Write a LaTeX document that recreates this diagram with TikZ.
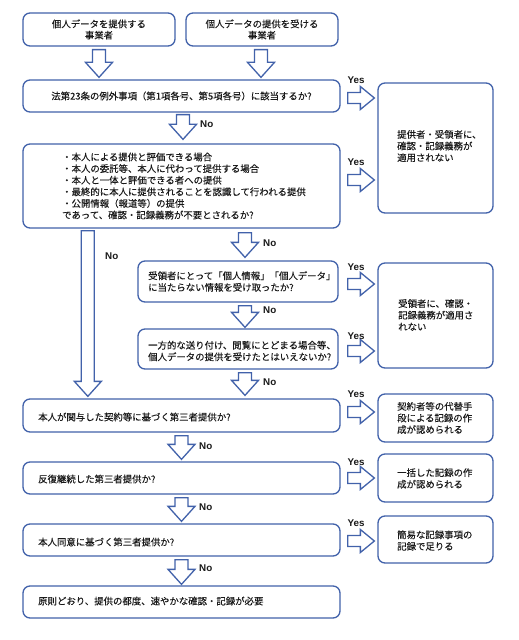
\documentclass[tikz,border=0pt]{standalone}
\usepackage{fontspec}
\setmainfont{Noto Sans CJK JP}[UprightFeatures={FakeBold=0.15}]
\newfontfamily\latf{Liberation Sans}
\usetikzlibrary{calc}
\definecolor{bblue}{HTML}{4262AA}
\definecolor{txt}{HTML}{1A1A1A}
\tikzset{
  box/.style={draw=bblue, line width=1.3bp, rounded corners=7bp, fill=white, inner sep=0pt},
  btext/.style={inner sep=0pt, align=left, text=txt, font=\fontsize{9.4bp}{11.6bp}\selectfont},
  ctext/.style={align=center, text=txt, font=\fontsize{9.4bp}{11.2bp}\selectfont},
  blk/.style={draw=bblue, line width=1.3bp, fill=white, line join=miter},
  yn/.style={inner sep=0pt, text=txt, font=\latf\bfseries\fontsize{9.8bp}{11bp}\selectfont},
}
\newcommand\downarr[2]{\draw[blk] let \p1=#1, \p2=#2 in
  (\x1-6.5bp,\y1) -- (\x1+6.5bp,\y1) -- (\x1+6.5bp,\y2+15bp) -- (\x1+13.5bp,\y2+15bp)
  -- (\x1,\y2) -- (\x1-13.5bp,\y2+15bp) -- (\x1-6.5bp,\y2+15bp) -- cycle;}
\newcommand\rightarr[2]{\draw[blk] let \p1=#1, \p2=#2 in
  (\x1,\y1+5.5bp) -- (\x2-14bp,\y1+5.5bp) -- (\x2-14bp,\y1+11.5bp) -- (\x2,\y1)
  -- (\x2-14bp,\y1-11.5bp) -- (\x2-14bp,\y1-5.5bp) -- (\x1,\y1-5.5bp) -- cycle;}
\begin{document}
\begin{tikzpicture}[x=1bp,y=-1bp]
\useasboundingbox[fill=white] (0,0) rectangle (519,640);

% top boxes
\node[box, ctext, minimum width=152bp, minimum height=33bp] (t1) at (99,29.5) {個人データを提供する\\事業者};
\node[box, ctext, minimum width=152bp, minimum height=33bp] (t2) at (262,29.5) {個人データの提供を受ける\\事業者};

% question boxes
\node[box, ctext, minimum width=317bp, minimum height=32bp] (q1) at (181.5,96) {法第23条の例外事項（第1項各号、第5項各号）に該当するか?};

\node[box, minimum width=317bp, minimum height=84bp] (q2) at (181.5,186) {};
\node[btext, anchor=west] (q2t) at (62,186) {・本人による提供と評価できる場合\\・本人の委託等、本人に代わって提供する場合\\・本人と一体と評価できる者への提供\\・最終的に本人に提供されることを認識して行われる提供\\・公開情報（報道等）の提供\\であって、確認・記録義務が不要とされるか?};

\node[box, minimum width=200bp, minimum height=41bp] (q3) at (238,281.5) {};
\node[btext, anchor=west] (q3t) at (148,281.5) {受領者にとって「個人情報」「個人データ」\\に当たらない情報を受け取ったか?};

\node[box, minimum width=200bp, minimum height=40bp] (q4) at (238,349) {};
\node[btext, anchor=west] (q4t) at (148,351) {一方的な送り付け、閲覧にとどまる場合等、\\個人データの提供を受けたとはいえないか?};

\node[box, minimum width=317bp, minimum height=33bp] (q5) at (181.5,415.5) {};
\node[btext, anchor=west] (q5t) at (38,417) {本人が関与した契約等に基づく第三者提供か?};

\node[box, minimum width=317bp, minimum height=32bp] (q6) at (181.5,478) {};
\node[btext, anchor=west] (q6t) at (38,479) {反復継続した第三者提供か?};

\node[box, minimum width=317bp, minimum height=32bp] (q7) at (181.5,540) {};
\node[btext, anchor=west] (q7t) at (38,542) {本人同意に基づく第三者提供か?};

\node[box, minimum width=317bp, minimum height=32bp] (q8) at (181.5,602) {};
\node[btext, anchor=west] (q8t) at (38,601) {原則どおり、提供の都度、速やかな確認・記録が必要};

% result boxes
\node[box, minimum width=115bp, minimum height=130bp] (r1) at (435.5,148) {};
\node[btext, anchor=west] (r1t) at (397,146) {提供者・受領者に、\\確認・記録義務が\\適用されない};

\node[box, minimum width=115bp, minimum height=105bp] (r2) at (435.5,315.5) {};
\node[btext, anchor=west] (r2t) at (398,315) {受領者に、確認・\\記録義務が適用さ\\れない};

\node[box, minimum width=115bp, minimum height=48bp] (r3) at (435.5,418) {};
\node[btext, anchor=west] (r3t) at (397,418) {契約者等の代替手\\段による記録の作\\成が認められる};

\node[box, minimum width=115bp, minimum height=48bp] (r4) at (435.5,478) {};
\node[btext, anchor=west] (r4t) at (397,478.5) {一括した記録の作\\成が認められる};

\node[box, minimum width=115bp, minimum height=47bp] (r5) at (435.5,539.5) {};
\node[btext, anchor=west] (r5t) at (397,540.5) {簡易な記録事項の\\記録で足りる};

% down arrows
\downarr{($(t1.south)+(0,3)$)}{($(t1.south|-q1.north)+(0,-2)$)}
\downarr{($(t2.south)+(-1,3)$)}{($(t2.south|-q1.north)+(-1,-2)$)}
\downarr{($(q1.south)+(1.5,2)$)}{($(q1.south|-q2.north)+(1.5,-4)$)}
\downarr{($(q2.south west)+(65.5,2)$)}{($(q2.south west|-q5.north)+(65.5,-2)$)}
\downarr{($(q3.north|-q2.south)+(7,4)$)}{($(q3.north)+(7,-3)$)}
\downarr{($(q3.south)+(7,3)$)}{($(q4.north)+(7,-1)$)}
\downarr{($(q4.south)+(7,3)$)}{($(q4.south|-q5.north)+(7,-3)$)}
\downarr{($(q5.south)+(0,3)$)}{($(q6.north)+(0,-2)$)}
\downarr{($(q6.south)+(0,3)$)}{($(q7.north)+(0,-2)$)}
\downarr{($(q7.south)+(0,3)$)}{($(q8.north)+(0,-1)$)}

% No labels
\node[yn, anchor=west] (n1) at (200,124) {No};
\node[yn, anchor=west] (n2) at (105,256) {No};
\node[yn, anchor=west] (n3) at (263,243) {No};
\node[yn, anchor=west] (n4) at (263,310) {No};
\node[yn, anchor=west] (n5) at (263,382) {No};
\node[yn, anchor=west] (n6) at (199,446) {No};
\node[yn, anchor=west] (n7) at (199,507) {No};
\node[yn, anchor=west] (n8) at (199,568) {No};

% right arrows
\rightarr{($(q1.east)+(7,2)$)}{($(r1.west)+(-3,0)$)}
\rightarr{($(q2.east)+(7,-6)$)}{($(r1.west)+(-3,0)$)}
\rightarr{($(q3.east)+(9,2.5)$)}{($(r2.west)+(-3,0)$)}
\rightarr{($(q4.east)+(9,2)$)}{($(r2.west)+(-3,0)$)}
\rightarr{($(q5.east)+(7,-3.5)$)}{($(r3.west)+(-3,0)$)}
\rightarr{($(q6.east)+(7,0)$)}{($(r4.west)+(-3,0)$)}
\rightarr{($(q7.east)+(7,1)$)}{($(r5.west)+(-3,0)$)}

% Yes labels
\node[yn] (y1) at (356,80) {Yes};
\node[yn] (y2) at (356,162) {Yes};
\node[yn] (y3) at (356,267) {Yes};
\node[yn] (y4) at (356,336) {Yes};
\node[yn] (y5) at (356,394) {Yes};
\node[yn] (y6) at (356,462) {Yes};
\node[yn] (y7) at (356,523) {Yes};
\end{tikzpicture}
\end{document}
